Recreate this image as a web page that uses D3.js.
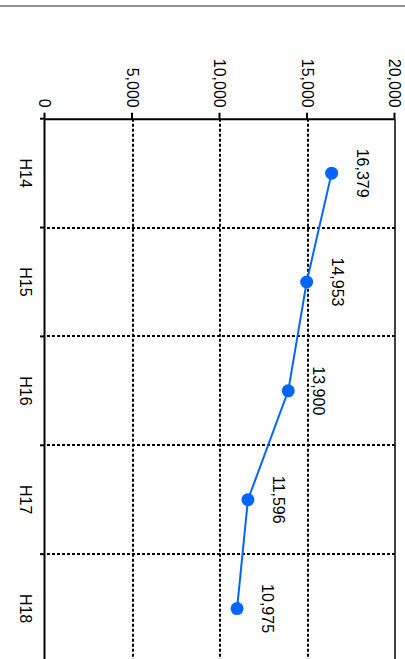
<!DOCTYPE html>
<html>
<head>
<meta charset="utf-8">
<script src="https://cdnjs.cloudflare.com/ajax/libs/d3/7.8.5/d3.min.js"></script>
<style>
  body { margin: 0; background: #fff; }
  svg { display: block; }
  text { font-family: "Liberation Sans", Arial, Helvetica, sans-serif; fill: #000; }
</style>
</head>
<body>
<script>
'use strict';
// data
var categories = ["H14", "H15", "H16", "H17", "H18"];
var values = [16379, 14953, 13900, 11596, 10975];
var valueTicks = [0, 5000, 10000, 15000, 20000];

var pageW = 405, pageH = 659;

// the chart is drawn upright then turned 90deg clockwise
var W = pageH, H = pageW;
var margin = {top: 10, right: -4, bottom: 45, left: 118.7};
var width = W - margin.left - margin.right,
    height = H - margin.top - margin.bottom;

var svg = d3.select("body").append("svg")
    .attr("width", pageW)
    .attr("height", pageH);

var root = svg.append("g")
    .attr("transform", "translate(" + pageW + ",0) rotate(90)");

// thin rule near the top of the page
root.append("line")
    .attr("x1", 6).attr("x2", 6)
    .attr("y1", 0).attr("y2", H)
    .attr("stroke", "#222")
    .attr("stroke-width", 1);

var g = root.append("g")
    .attr("transform", "translate(" + margin.left + "," + margin.top + ")");

var x = d3.scaleBand().domain(categories).range([0, width]).padding(0);
var y = d3.scaleLinear().domain([0, 20000]).range([height, 0]);

// value grid lines (dotted), snapped to whole pixels
g.selectAll(".vgrid")
    .data(valueTicks.filter(function(d) { return d > 0 && d < 20000; }))
  .enter().append("line")
    .attr("class", "vgrid")
    .attr("x1", 0).attr("x2", width)
    .attr("y1", function(d) { return Math.floor(y(d)); })
    .attr("y2", function(d) { return Math.floor(y(d)); })
    .attr("stroke", "#000")
    .attr("stroke-width", 2)
    .attr("stroke-dasharray", "3,2");

// category boundaries: dotted grid + short solid tick
var bounds = d3.range(1, categories.length + 1).map(function(i) { return i * x.step(); });
g.selectAll(".cgrid")
    .data(bounds)
  .enter().append("line")
    .attr("class", "cgrid")
    .attr("x1", function(d) { return Math.round(d + margin.left) - margin.left; })
    .attr("x2", function(d) { return Math.round(d + margin.left) - margin.left; })
    .attr("y1", 0).attr("y2", height)
    .attr("stroke", "#000")
    .attr("stroke-width", 2)
    .attr("stroke-dasharray", "3,2");

g.selectAll(".ctick")
    .data([0].concat(bounds))
  .enter().append("line")
    .attr("class", "ctick")
    .attr("x1", function(d) { return d; })
    .attr("x2", function(d) { return d; })
    .attr("y1", height).attr("y2", height + 5)
    .attr("stroke", "#000")
    .attr("stroke-width", 2);

// right border (top edge before turning)
g.append("line")
    .attr("x1", 0).attr("x2", width)
    .attr("y1", y(20000)).attr("y2", y(20000))
    .attr("stroke", "#000")
    .attr("stroke-width", 1.5);

// value axis
var yAxis = g.append("g")
    .call(d3.axisLeft(y).tickValues(valueTicks).tickFormat(d3.format(","))
      .tickSize(6).tickSizeOuter(0).tickPadding(5));
yAxis.select(".domain").attr("stroke-width", 2);
yAxis.selectAll(".tick line").attr("stroke-width", 2);
yAxis.selectAll("text").style("font-size", "16px").attr("fill", "#000");

// category axis
var xAxis = g.append("g")
    .attr("transform", "translate(0," + height + ")")
    .call(d3.axisBottom(x).tickSize(0).tickSizeOuter(0).tickPadding(13.5));
xAxis.select(".domain").attr("stroke-width", 2);
xAxis.selectAll("text").style("font-size", "16px").attr("fill", "#000");

// line + points
var line = d3.line()
    .x(function(d, i) { return x(categories[i]) + x.bandwidth() / 2; })
    .y(function(d) { return y(d); });

g.append("path")
    .datum(values)
    .attr("d", line)
    .attr("fill", "none")
    .attr("stroke", "#0066ff")
    .attr("stroke-width", 2);

g.selectAll(".dot")
    .data(values)
  .enter().append("circle")
    .attr("class", "dot")
    .attr("r", 6.5)
    .attr("cx", function(d, i) { return x(categories[i]) + x.bandwidth() / 2; })
    .attr("cy", function(d) { return y(d); })
    .attr("fill", "#0066ff");

g.selectAll(".vlabel")
    .data(values)
  .enter().append("text")
    .attr("class", "vlabel")
    .attr("x", function(d, i) { return x(categories[i]) + x.bandwidth() / 2; })
    .attr("y", function(d) { return y(d) - 25; })
    .attr("text-anchor", "middle")
    .style("font-size", "16px")
    .text(function(d) { return d3.format(",")(d); });
</script>
</body>
</html>
